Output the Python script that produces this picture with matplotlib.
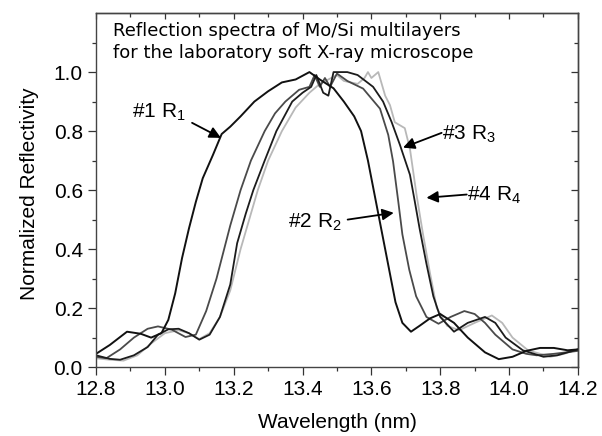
#!/usr/bin/env python3
"""
Normalized reflection spectra of four Mo/Si multilayer mirrors.
"""

import matplotlib
matplotlib.use('Agg')
import matplotlib.pyplot as plt
from matplotlib.ticker import MultipleLocator

# Sample #1 (black, shifted to shorter wavelength)
wl_1 = [12.80, 12.84, 12.89, 12.93, 12.96, 12.99, 13.01, 13.03, 13.05, 13.07,
        13.09, 13.11, 13.14, 13.165, 13.19, 13.22, 13.26, 13.30, 13.34, 13.38,
        13.42, 13.45, 13.49, 13.52, 13.55, 13.57, 13.59, 13.61, 13.63, 13.65,
        13.67, 13.69, 13.715, 13.74, 13.77, 13.80, 13.84, 13.88, 13.93, 13.97,
        14.01, 14.05, 14.09, 14.13, 14.17, 14.20]
r_1 = [0.045, 0.075, 0.12, 0.113, 0.10, 0.115, 0.16, 0.25, 0.37, 0.47,
       0.56, 0.64, 0.72, 0.79, 0.815, 0.85, 0.90, 0.935, 0.965, 0.975,
       1.00, 0.975, 0.945, 0.90, 0.85, 0.80, 0.70, 0.58, 0.46, 0.34,
       0.22, 0.15, 0.12, 0.14, 0.165, 0.18, 0.15, 0.10, 0.05, 0.027,
       0.035, 0.055, 0.065, 0.065, 0.057, 0.06]

# Sample #2 (dark grey)
wl_2 = [12.80, 12.83, 12.87, 12.91, 12.95, 12.98, 13.02, 13.06, 13.09, 13.12,
        13.15, 13.17, 13.19, 13.22, 13.25, 13.29, 13.32, 13.35, 13.39, 13.42,
        13.435, 13.45, 13.465, 13.48, 13.50, 13.53, 13.576, 13.625, 13.649, 13.663,
        13.678, 13.69, 13.71, 13.73, 13.76, 13.795, 13.83, 13.87, 13.90, 13.93,
        13.96, 14.01, 14.05, 14.08, 14.13, 14.20]
r_2 = [0.035, 0.03, 0.06, 0.10, 0.13, 0.138, 0.127, 0.102, 0.11, 0.19,
       0.30, 0.39, 0.48, 0.60, 0.70, 0.80, 0.86, 0.90, 0.94, 0.95,
       0.99, 0.95, 0.98, 0.95, 0.995, 0.97, 0.944, 0.876, 0.787, 0.697,
       0.562, 0.45, 0.33, 0.24, 0.17, 0.147, 0.17, 0.19, 0.18, 0.15,
       0.11, 0.06, 0.045, 0.04, 0.045, 0.055]

# Sample #3 (black)
wl_3 = [12.80, 12.84, 12.87, 12.91, 12.95, 12.98, 13.01, 13.04, 13.07, 13.10,
        13.13, 13.16, 13.19, 13.21, 13.235, 13.257, 13.29, 13.324, 13.37, 13.40,
        13.425, 13.44, 13.46, 13.475, 13.49, 13.53, 13.56, 13.605, 13.634, 13.659,
        13.683, 13.712, 13.726, 13.74, 13.76, 13.78, 13.80, 13.84, 13.88, 13.93,
        13.96, 13.99, 14.04, 14.10, 14.14, 14.20]
r_3 = [0.04, 0.028, 0.025, 0.04, 0.068, 0.11, 0.128, 0.13, 0.115, 0.093,
       0.11, 0.17, 0.28, 0.42, 0.52, 0.60, 0.70, 0.80, 0.90, 0.93,
       0.95, 0.99, 0.93, 0.92, 1.00, 1.00, 0.99, 0.95, 0.90, 0.83,
       0.753, 0.652, 0.562, 0.47, 0.35, 0.24, 0.17, 0.12, 0.15, 0.17,
       0.15, 0.10, 0.057, 0.035, 0.04, 0.06]

# Sample #4 (light grey)
wl_4 = [12.80, 12.84, 12.88, 12.92, 12.96, 13.00, 13.04, 13.07, 13.10, 13.13,
        13.16, 13.19, 13.22, 13.245, 13.27, 13.30, 13.34, 13.38, 13.42, 13.45,
        13.50, 13.52, 13.56, 13.58, 13.59, 13.60, 13.62, 13.64, 13.654, 13.668,
        13.697, 13.712, 13.731, 13.75, 13.77, 13.79, 13.82, 13.855, 13.90, 13.95,
        13.98, 14.01, 14.055, 14.12, 14.16, 14.20]
r_4 = [0.03, 0.025, 0.022, 0.04, 0.08, 0.115, 0.125, 0.115, 0.095, 0.115,
       0.17, 0.26, 0.40, 0.50, 0.60, 0.70, 0.80, 0.88, 0.93, 0.96,
       0.99, 0.97, 0.96, 0.98, 1.00, 0.98, 1.00, 0.92, 0.888, 0.83,
       0.81, 0.74, 0.585, 0.45, 0.32, 0.20, 0.14, 0.125, 0.15, 0.175,
       0.15, 0.10, 0.057, 0.035, 0.045, 0.06]

# label text, text anchor (wavelength, reflectivity), arrow tail, arrow tip
labels = [r'#1 R$_1$', r'#2 R$_2$', r'#3 R$_3$', r'#4 R$_4$']
label_xy = [(12.905, 0.845), (13.358, 0.472), (13.804, 0.772), (13.877, 0.563)]
arrow_from = [(13.079, 0.828), (13.531, 0.500), (13.804, 0.794), (13.877, 0.585)]
arrow_to = [(13.163, 0.777), (13.665, 0.523), (13.692, 0.744), (13.760, 0.574)]

x_ticks = [12.8, 13.0, 13.2, 13.4, 13.6, 13.8, 14.0, 14.2]
y_ticks = [0.0, 0.2, 0.4, 0.6, 0.8, 1.0]
y_minor = [0.1, 0.3, 0.5, 0.7, 0.9, 1.1]


def main():
    plt.rcParams['font.family'] = ['Liberation Sans', 'DejaVu Sans']
    plt.rcParams['mathtext.fontset'] = 'custom'
    plt.rcParams['mathtext.rm'] = 'Liberation Sans'
    plt.rcParams['mathtext.it'] = 'Liberation Sans'

    fig = plt.figure(figsize=(6.02, 4.36), dpi=100)
    ax = fig.add_axes([0.1595, 0.158, 0.8005, 0.812])

    ax.plot(wl_4, r_4, color='#b8b8b8', lw=1.3)
    ax.plot(wl_2, r_2, color='#4a4a4a', lw=1.3)
    ax.plot(wl_3, r_3, color='#1c1c1c', lw=1.3)
    ax.plot(wl_1, r_1, color='#111111', lw=1.4)

    ax.set_xlim(12.8, 14.2)
    ax.set_ylim(0.0, 1.2)
    ax.set_xticks(x_ticks)
    ax.set_yticks(y_ticks)
    ax.set_xticklabels([f'{v:.1f}' for v in x_ticks])
    ax.set_yticklabels([f'{v:.1f}' for v in y_ticks])
    ax.xaxis.set_minor_locator(MultipleLocator(0.1))
    ax.set_yticks(y_minor, minor=True)

    ax.tick_params(which='both', direction='out', labelsize=15, width=0.9,
                   colors='#333333', labelcolor='black')
    ax.tick_params(which='major', length=6)
    ax.tick_params(which='minor', length=3)

    # inward ticks on the top and right edges
    top = ax.secondary_xaxis('top')
    top.set_xticks(x_ticks)
    top.xaxis.set_minor_locator(MultipleLocator(0.1))
    top.tick_params(which='both', direction='in', labeltop=False, width=0.9,
                    colors='#333333')
    top.tick_params(which='major', length=4)
    top.tick_params(which='minor', length=3)
    right = ax.secondary_yaxis('right')
    right.set_yticks(y_ticks)
    right.set_yticks(y_minor, minor=True)
    right.tick_params(which='both', direction='in', labelright=False, width=0.9,
                      colors='#333333')
    right.tick_params(which='major', length=5)
    right.tick_params(which='minor', length=3)

    for side in ['left', 'bottom', 'top', 'right']:
        ax.spines[side].set_color('#444444')
        ax.spines[side].set_linewidth(1.0)
    for sec in [top, right]:
        for sp in sec.spines.values():
            sp.set_color('#444444')
            sp.set_linewidth(1.0)

    ax.set_xlabel('Wavelength (nm)', fontsize=15)
    ax.set_ylabel('Normalized Reflectivity', fontsize=15)
    ax.xaxis.set_label_coords(0.5, -0.13)
    ax.yaxis.set_label_coords(-0.118, 0.49)

    ax.text(0.035, 0.975,
            'Reflection spectra of Mo/Si multilayers\n'
            'for the laboratory soft X-ray microscope',
            transform=ax.transAxes, ha='left', va='top', fontsize=13,
            family=['DejaVu Sans'], linespacing=1.3)

    for text, xy, src, dst in zip(labels, label_xy, arrow_from, arrow_to):
        ax.text(xy[0], xy[1], text, fontsize=15, ha='left', va='baseline')
        ax.annotate('', xy=dst, xytext=src,
                    arrowprops=dict(arrowstyle='-|>', color='black', lw=1.3,
                                    mutation_scale=17, shrinkA=0, shrinkB=0))

    fig.savefig('out.png', dpi=100)


if __name__ == '__main__':
    main()
